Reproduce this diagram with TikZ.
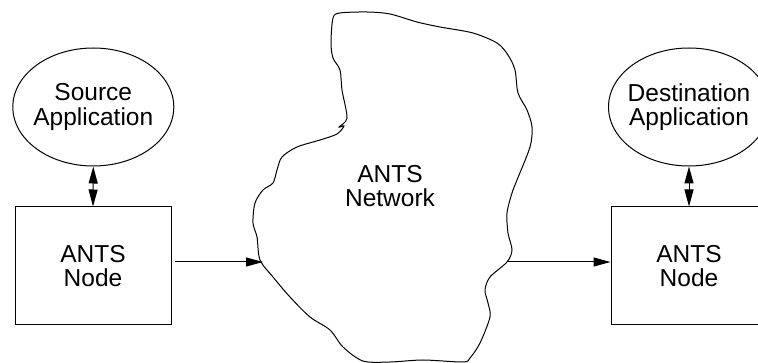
\documentclass[tikz,border=0pt]{standalone}
\usepackage{fontspec}
\setmainfont{Liberation Sans}
\usetikzlibrary{arrows.meta,shapes.geometric}
\begin{document}
\begin{tikzpicture}[x=1pt,y=-1pt,line width=1pt,
  every node/.style={font=\fontsize{24.5}{24.5}\selectfont,align=center,inner sep=0pt},
  app/.style={draw,ellipse,inner xsep=-12pt,minimum width=161pt,minimum height=118pt},
  antsbox/.style={draw,rectangle,minimum width=156pt,minimum height=118pt},
  tip/.style={-{Triangle[length=17pt,width=9pt]}},
  dtip/.style={{Triangle[length=17pt,width=9pt]}-{Triangle[length=17pt,width=9pt]}}]
\useasboundingbox (0,0) rectangle (758,363);
\clip (0,0) rectangle (758,363);
% left side
\node[app] (srcapp) at (93.3,107) {Source\\Application};
\node[antsbox] (srcnode) at (93,266) {ANTS\\Node};
% right side
\node[app] (dstapp) at (689,107) {Destination\\Application};
\node[antsbox] (dstnode) at (689,266) {ANTS\\Node};
% network cloud
\draw plot[smooth cycle,tension=0.5] coordinates {
 (340,13) (367,12) (390,14) (417,22) (440,27) (473,33) (497,43) (508,55)
 (515,70) (518,93) (527,110) (532,127) (530,147) (517,180) (512,193)
 (507,213) (508,233) (512,250) (507,262) (490,277) (485,290) (488,303)
 (490,317) (480,343) (470,358) (463,362) (423,360) (390,362) (363,361)
 (343,347) (330,330) (310,317) (290,297) (273,277) (260,260) (257,237)
 (253,223) (255,203) (263,190) (273,183) (277,170) (282,157) (297,147)
 (320,140) (337,134) (344,126) (339,127) (347,118) (342,90) (340,70)
 (333,58) (331,43) (333,18)};
\node (net) at (390,186) {ANTS\\Network};
\coordinate (netin) at (263,262);
\coordinate (netout) at (508,262);
% connectors
\draw[dtip] (srcapp.south) -- (srcnode.north);
\draw[dtip] (dstapp.south) -- (dstnode.north);
\draw[tip] ([xshift=3pt,yshift=4pt]srcnode.east) -- (netin);
\draw[tip] (netout) -- ([yshift=4pt]dstnode.west);
\end{tikzpicture}
\end{document}
